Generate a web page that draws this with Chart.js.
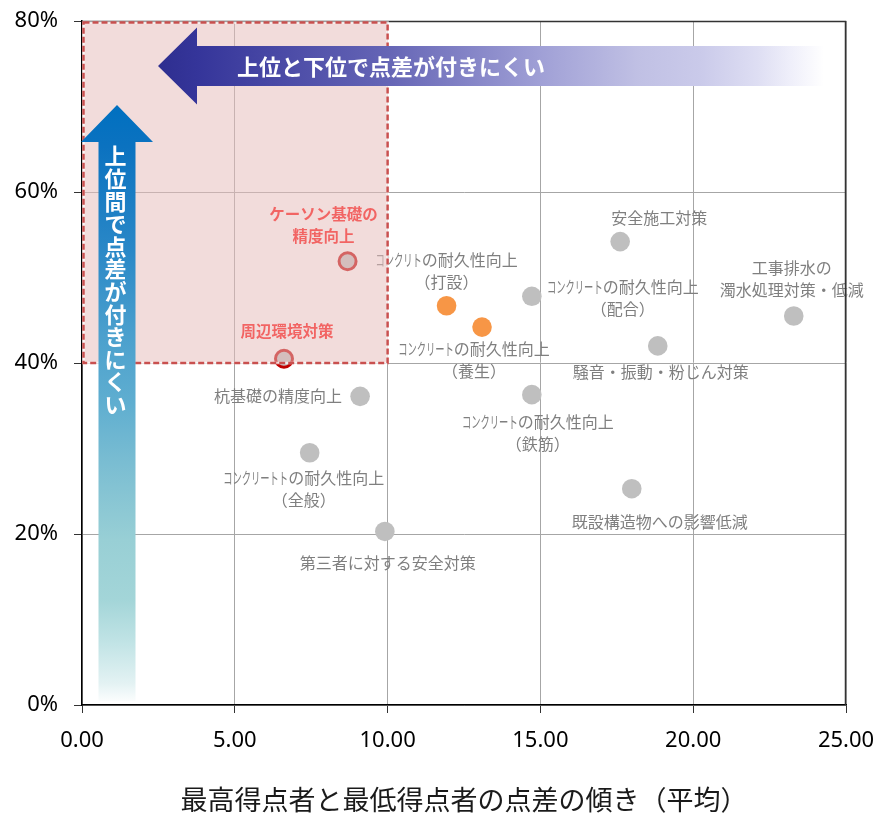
<!DOCTYPE html>
<html lang="ja">
<head>
<meta charset="UTF-8">
<title>点差の傾きと上位比率</title>
<script src="https://cdn.jsdelivr.net/npm/chart.js@4.4.0/dist/chart.umd.min.js"></script>
<style>
  html, body { margin: 0; padding: 0; background: #fff; }
  #wrap { width: 878px; height: 818px; }
</style>
</head>
<body>
<div id="wrap"><canvas id="gapChart" width="878" height="818"></canvas></div>
<script>
// 対策項目ごとの点差の傾き(平均)と上位比率
const measureLabels = [
  ['ケーソン基礎の', '精度向上'],
  ['周辺環境対策'],
  ['コンクリトの耐久性向上', '（打設）'],
  ['コンクリートの耐久性向上', '（養生）'],
  ['コンクリートの耐久性向上', '（配合）'],
  ['安全施工対策'],
  ['工事排水の', '濁水処理対策・低減'],
  ['騒音・振動・粉じん対策'],
  ['コンクリートの耐久性向上', '（鉄筋）'],
  ['杭基礎の精度向上'],
  ['コンクリートトの耐久性向上', '（全般）'],
  ['第三者に対する安全対策'],
  ['既設構造物への影響低減']
];
const gapSlope = [8.69, 6.61, 11.93, 13.09, 14.72, 17.61, 23.29, 18.84, 14.72, 9.10, 7.45, 9.91, 17.99];
const topShare = [51.9, 40.5, 46.7, 44.2, 47.8, 54.2, 45.5, 42.0, 36.3, 36.1, 29.5, 20.3, 25.3];
// focus = 枠内の注目項目, concrete = 橙色で示す項目
const markGroup = ['focus', 'focus', 'concrete', 'concrete', 'other', 'other', 'other',
                   'other', 'other', 'other', 'other', 'other', 'other'];

const xTicks = [0, 5, 10, 15, 20, 25];
const yTicks = [0, 20, 40, 60, 80];

// 上位間・上下間で点差が付きにくい領域
const zoneX = [0, 10];
const zoneY = [40, 80];

// ラベル位置(点からのずれ)
const labelPlacement = [
  { dx: -24, dy: -47 }, { dx: 3, dy: -28 }, { dx: 0, dy: -46 }, { dx: -8, dy: 22 },
  { dx: 91, dy: -9 }, { dx: 39, dy: -24 }, { dx: -2, dy: -48 }, { dx: 3, dy: 26 },
  { dx: 6, dy: 27 }, { dx: -18, dy: 0, align: 'right' }, { dx: -6, dy: 25 },
  { dx: 3, dy: 31 }, { dx: 28, dy: 33 }
];

const JP = '"Noto Sans CJK JP", "Noto Sans", sans-serif';
const fillFor = { focus: '#bfbfbf', concrete: '#f79646', other: '#bfbfbf' };

// 先頭のカタカナだけ横幅を詰めて描く
function drawLabelLine(ctx, text, x, y, align, squeeze) {
  const m = squeeze ? text.match(/^[ァ-ヶー]+/) : null;
  if (!m) {
    ctx.textAlign = align;
    ctx.fillText(text, x, y);
    return;
  }
  const head = m[0];
  const rest = text.slice(head.length);
  const headW = ctx.measureText(head).width * squeeze;
  const total = headW + ctx.measureText(rest).width;
  const left = align === 'center' ? x - total / 2 : align === 'right' ? x - total : x;
  ctx.textAlign = 'left';
  ctx.save();
  ctx.translate(left, y);
  ctx.scale(squeeze, 1);
  ctx.fillText(head, 0, 0);
  ctx.restore();
  ctx.fillText(rest, left + headW, y);
}

// 目盛ラベルのはみ出し分の余白は付けない
function noEdgePadding(s) {
  s.paddingTop = 0;
  s.paddingBottom = 0;
  s.paddingLeft = 0;
  s.paddingRight = 0;
}

const pointLabels = {
  id: 'pointLabels',
  afterDatasetsDraw(chart) {
    const { ctx, scales: { x, y } } = chart;
    ctx.save();
    ctx.textBaseline = 'middle';
    measureLabels.forEach((lines, i) => {
      const px = x.getPixelForValue(gapSlope[i]);
      const py = y.getPixelForValue(topShare[i]);
      const p = labelPlacement[i];
      const focus = markGroup[i] === 'focus';
      ctx.fillStyle = focus ? '#ff0000' : '#7f7f7f';
      ctx.font = (focus ? 'bold 15.5px ' : '16px ') + JP;
      lines.forEach((t, k) => {
        drawLabelLine(ctx, t, px + p.dx, py + p.dy + k * 22, p.align || 'center', focus ? 0 : 0.58);
      });
    });
    ctx.restore();
  }
};

const overlays = {
  id: 'overlays',
  afterDatasetsDraw(chart) {
    const { ctx, chartArea: ca, scales: { x, y } } = chart;
    ctx.save();

    // 領域の網掛け
    const l = x.getPixelForValue(zoneX[0]), r = x.getPixelForValue(zoneX[1]);
    const t = y.getPixelForValue(zoneY[1]), b = y.getPixelForValue(zoneY[0]);
    ctx.fillStyle = 'rgba(230,189,187,0.53)';
    ctx.fillRect(l, t, r - l, b - t);

    // 外枠(上・右)
    ctx.strokeStyle = '#333';
    ctx.lineWidth = 1.5;
    ctx.beginPath();
    ctx.moveTo(ca.left, ca.top + 0.5);
    ctx.lineTo(ca.right - 0.5, ca.top + 0.5);
    ctx.lineTo(ca.right - 0.5, ca.bottom);
    ctx.stroke();

    // 破線枠
    ctx.lineWidth = 2.5;
    ctx.strokeStyle = 'rgba(255,255,255,0.7)';
    ctx.strokeRect(l + 1.5, t + 1.5, r - l - 1.5, b - t - 1.5);
    ctx.setLineDash([6, 3]);
    ctx.strokeStyle = '#c9504f';
    ctx.strokeRect(l + 1.5, t + 1.5, r - l - 1.5, b - t - 1.5);
    ctx.setLineDash([]);

    // 横向き矢印
    const tipX = ca.left + 76, cy = ca.top + 45, endX = ca.left + 742;
    const hg = ctx.createLinearGradient(tipX, 0, endX, 0);
    [[0, '#2e2e8f'], [0.06, '#35359a'], [0.35, '#6666b6'], [0.575, '#a0a0d6'],
     [0.72, '#c0c0e4'], [0.815, '#cacaea'], [0.9, '#dedef3'], [0.95, '#efeffa'], [1, '#ffffff']]
      .forEach(([s, c]) => hg.addColorStop(s, c));
    ctx.fillStyle = hg;
    ctx.beginPath();
    ctx.moveTo(tipX, cy);
    ctx.lineTo(tipX + 39, cy - 38.5);
    ctx.lineTo(tipX + 39, cy - 20);
    ctx.lineTo(endX, cy - 20);
    ctx.lineTo(endX, cy + 20);
    ctx.lineTo(tipX + 39, cy + 20);
    ctx.lineTo(tipX + 39, cy + 38.5);
    ctx.closePath();
    ctx.fill();

    ctx.fillStyle = '#fff';
    ctx.font = 'bold 22px ' + JP;
    ctx.textAlign = 'left';
    ctx.textBaseline = 'middle';
    ctx.fillText('上位と下位で点差が付きにくい', tipX + 79, cy + 1);

    // 縦向き矢印
    const cx = ca.left + 35, tipY = ca.top + 84, endY = ca.top + 680;
    const vg = ctx.createLinearGradient(0, tipY, 0, endY);
    [[0, '#0070c0'], [0.07, '#0b72c0'], [0.245, '#2a88c7'], [0.38, '#4a9fcd'], [0.5, '#5faed0'],
     [0.6, '#7abdd2'], [0.73, '#98cfd5'], [0.83, '#a3d5d8'], [0.9, '#c0e3e5'], [0.97, '#e3f2f3'], [1, '#fbfdfd']]
      .forEach(([s, c]) => vg.addColorStop(s, c));
    ctx.fillStyle = vg;
    ctx.beginPath();
    ctx.moveTo(cx, tipY);
    ctx.lineTo(cx + 36, tipY + 37);
    ctx.lineTo(cx + 18.5, tipY + 37);
    ctx.lineTo(cx + 18.5, endY);
    ctx.lineTo(cx - 18.5, endY);
    ctx.lineTo(cx - 18.5, tipY + 37);
    ctx.lineTo(cx - 36, tipY + 37);
    ctx.closePath();
    ctx.fill();

    ctx.fillStyle = '#fff';
    ctx.textAlign = 'center';
    Array.from('上位間で点差が付きにくい').forEach((ch, k) => {
      ctx.fillText(ch, cx - 1.5, tipY + 51 + k * 22.6);
    });

    ctx.restore();
  }
};

const ctx = document.getElementById('gapChart').getContext('2d');
new Chart(ctx, {
  type: 'scatter',
  data: {
    datasets: [{
      data: gapSlope.map((v, i) => ({ x: v, y: topShare[i] })),
      backgroundColor: markGroup.map(g => fillFor[g]),
      borderColor: markGroup.map(g => g === 'focus' ? '#c00000' : 'rgba(0,0,0,0)'),
      borderWidth: markGroup.map(g => g === 'focus' ? 3 : 0),
      pointRadius: markGroup.map(g => g === 'focus' ? 8.5 : 9.8),
      pointHoverRadius: markGroup.map(g => g === 'focus' ? 8.5 : 9.8)
    }]
  },
  options: {
    responsive: false,
    animation: false,
    layout: { padding: { top: 21, right: 32, left: 0, bottom: 0 } },
    plugins: {
      legend: { display: false },
      tooltip: { enabled: false }
    },
    scales: {
      x: {
        type: 'linear',
        min: xTicks[0],
        max: xTicks[xTicks.length - 1],
        afterBuildTicks: s => { s.ticks = xTicks.map(v => ({ value: v })); },
        afterFit: s => { s.height = 113; noEdgePadding(s); },
        grid: { color: '#a6a6a6', tickColor: '#333', tickLength: 8, lineWidth: 1 },
        border: { color: '#000', width: 1.5 },
        ticks: {
          padding: 15,
          color: '#000',
          font: { family: '"Noto Sans", sans-serif', size: 22 },
          callback: v => v.toFixed(2)
        },
        title: {
          display: true,
          text: '最高得点者と最低得点者の点差の傾き（平均）',
          color: '#1a1a1a',
          font: { family: JP, size: 27 },
          padding: { top: 0, bottom: 2 }
        }
      },
      y: {
        min: yTicks[0],
        max: yTicks[yTicks.length - 1],
        afterBuildTicks: s => { s.ticks = yTicks.map(v => ({ value: v })); },
        afterFit: s => { s.width = 82; noEdgePadding(s); },
        grid: { color: '#a6a6a6', tickColor: '#333', tickLength: 8, lineWidth: 1 },
        border: { color: '#000', width: 1.5 },
        ticks: {
          padding: 16,
          color: '#000',
          font: { family: '"Noto Sans", sans-serif', size: 22 },
          callback: v => v + '%'
        }
      }
    }
  },
  plugins: [pointLabels, overlays]
});
</script>
</body>
</html>
